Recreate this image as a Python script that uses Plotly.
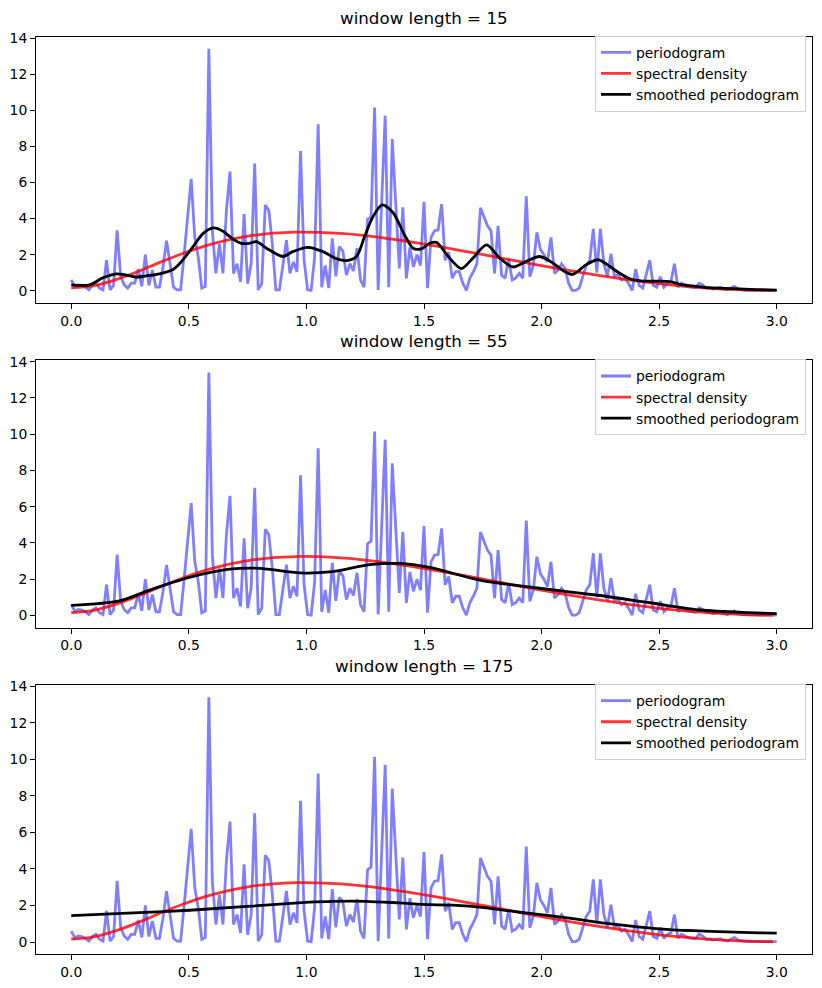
import numpy as np
import plotly.graph_objects as go

# ---- data ----
periodogram = [
    0.6, 0.23, 0.33, 0.3, 0.2, 0.05, 0.3, 0.42, 0.15, 0.05,
    1.7, 0.05, 0.3, 3.35, 0.8, 0.33, 0.15, 0.42, 0.42, 1.2,
    0.25, 2.0, 0.3, 1.15, 0.2, 0.2, 1.3, 2.78, 1.5, 0.2,
    0.05, 0.05, 2.0, 4.1, 6.2, 3.0, 1.87, 0.15, 0.25, 13.4,
    3.3, 0.96, 2.6, 0.96, 4.5, 6.6, 0.96, 1.5, 0.5, 4.25,
    0.4, 1.5, 7.05, 0.05, 0.4, 4.75, 4.45, 2.6, 0.05, 0.05,
    1.4, 2.8, 0.96, 1.6, 1.05, 7.74, 1.7, 0.05, 0.02, 1.87,
    9.23, 0.2, 1.4, 0.15, 2.9, 0.8, 2.45, 2.2, 0.87, 1.5,
    1.1, 2.36, 0.6, 0.2, 3.96, 4.1, 10.15, 0.05, 4.9, 9.7,
    0.2, 8.4, 4.8, 1.24, 4.62, 0.69, 2.4, 1.33, 2.0, 1.4,
    4.93, 0.15, 2.96, 3.33, 3.36, 4.8, 1.69, 2.15, 0.7, 1.06,
    1.06, 0.42, 0.02, 0.7, 1.06, 1.5, 4.6, 4.14, 3.6, 3.33,
    0.96, 3.6, 0.87, 0.7, 1.78, 0.6, 0.7, 0.96, 0.7, 5.23,
    0.78, 1.42, 3.24, 2.3, 2.0, 1.6, 2.96, 0.96, 1.15, 1.5,
    1.24, 0.42, 0.02, 0.02, 0.15, 0.78, 1.4, 1.69, 3.43, 1.0,
    3.43, 1.5, 0.8, 2.05, 0.8, 0.9, 0.6, 0.7, 0.4, 0.02,
    1.2, 0.3, 0.15, 0.9, 1.69, 0.3, 0.2, 0.78, 0.2, 0.42,
    0.5, 1.5, 0.2, 0.42, 0.33, 0.23, 0.2, 0.18, 0.42, 0.33,
    0.15, 0.15, 0.1, 0.15, 0.18, 0.1, 0.05, 0.15, 0.25, 0.1,
    0.05, 0.03, 0.03, 0.03, 0.05, 0.02, 0.02, 0.02, 0.02, 0.02,
    0.02,
]
freq_max = 3.0
freqs = np.linspace(0, freq_max, len(periodogram))

sd_w = [0.0, 0.095, 0.191, 0.286, 0.382, 0.477, 0.573, 0.668, 0.764, 0.859,
        0.955, 1.050, 1.146, 1.241, 1.337, 1.432, 1.528, 1.623, 1.719, 1.814,
        1.910, 2.005, 2.101, 2.196, 2.292, 2.387, 2.483, 2.578, 2.674, 2.769,
        2.865, 2.960, 2.984]
sd_v = [0.16, 0.28, 0.62, 1.08, 1.60, 2.08, 2.50, 2.82, 3.05, 3.19, 3.25, 3.24,
        3.18, 3.07, 2.91, 2.73, 2.53, 2.31, 2.08, 1.85, 1.61, 1.38, 1.16, 0.95,
        0.76, 0.58, 0.42, 0.29, 0.18, 0.10, 0.046, 0.020, 0.019]

sm15_w = [0.0, 0.078, 0.135, 0.191, 0.234, 0.277, 0.319, 0.375, 0.433, 0.475,
          0.518, 0.560, 0.605, 0.645, 0.688, 0.723, 0.758, 0.787, 0.830, 0.900,
          0.942, 1.006, 1.070, 1.127, 1.170, 1.213, 1.247, 1.282, 1.322, 1.367,
          1.418, 1.453, 1.489, 1.524, 1.553, 1.609, 1.659, 1.708, 1.766, 1.822,
          1.878, 1.935, 1.992, 2.048, 2.091, 2.133, 2.190, 2.240, 2.290, 2.311,
          2.375, 2.431, 2.488, 2.552, 2.588, 2.644, 2.715, 2.814, 2.913, 3.0]
sm15_v = [0.33, 0.33, 0.72, 0.94, 0.87, 0.76, 0.83, 0.94, 1.18, 1.72, 2.45,
          3.17, 3.48, 3.3, 2.86, 2.63, 2.63, 2.72, 2.36, 1.90, 2.17,
          2.41, 2.17, 1.78, 1.67, 1.90, 2.99, 4.08, 4.76, 4.35, 3.08,
          2.36, 2.32, 2.63, 2.68, 1.81, 1.23, 1.81, 2.54, 1.81, 1.32,
          1.63, 1.90, 1.54, 1.12, 0.91, 1.45, 1.72, 1.36, 1.15, 0.67,
          0.54, 0.54, 0.50, 0.36, 0.27, 0.17, 0.12, 0.07, 0.04]

sm55_w = [0.0, 0.205, 0.333, 0.503, 0.673, 0.801, 0.971, 1.099, 1.269, 1.396,
          1.524, 1.737, 1.992, 2.247, 2.460, 2.673, 2.885, 3.0]
sm55_v = [0.55, 0.8, 1.4, 2.1, 2.55, 2.6, 2.35, 2.4, 2.8, 2.87,
          2.65, 1.95, 1.5, 1.1, 0.7, 0.3, 0.15, 0.1]

sm175_w = [0.0, 0.239, 0.503, 1.013, 1.112, 1.255, 1.396, 1.524, 1.623, 1.766,
           1.907, 2.034, 2.133, 2.276, 2.417, 2.545, 2.644, 2.786, 2.928, 3.0]
sm175_v = [1.44, 1.58, 1.74, 2.18, 2.23, 2.23, 2.14, 2.05, 2.02, 1.87,
           1.63, 1.44, 1.28, 1.02, 0.82, 0.68, 0.62, 0.55, 0.50, 0.49]

window_lengths = [15, 55, 175]
smoothed = [(sm15_w, sm15_v), (sm55_w, sm55_v), (sm175_w, sm175_v)]

# ---- layout geometry (pixels) ----
W, H = 822, 988
x_left, x_right = 36, 812
panels_px = [(30, 298), (356, 625), (683, 954)]

fig = go.Figure()
font = dict(family="DejaVu Sans", size=13.9, color="black")

for i, (wl, (sw, sv)) in enumerate(zip(window_lengths, smoothed)):
    n = "" if i == 0 else str(i + 1)
    xa, ya = "x" + n, "y" + n
    lg = "legend" + n
    fig.add_trace(go.Scatter(x=freqs, y=periodogram, mode="lines", name="periodogram",
                             line=dict(color="rgba(0,0,255,0.5)", width=2.8),
                             xaxis=xa, yaxis=ya, legend=lg))
    fig.add_trace(go.Scatter(x=sd_w, y=sd_v, mode="lines", name="spectral density",
                             line=dict(color="rgba(255,0,0,0.8)", width=2.8, shape="spline"),
                             xaxis=xa, yaxis=ya, legend=lg))
    fig.add_trace(go.Scatter(x=sw, y=sv, mode="lines", name="smoothed periodogram",
                             line=dict(color="black", width=2.8, shape="spline", smoothing=0.8),
                             xaxis=xa, yaxis=ya, legend=lg))

    top, bot = panels_px[i]
    dom_y = [1 - bot / H, 1 - top / H]
    axis_common = dict(showline=True, mirror=True, linecolor="black", linewidth=1.1,
                       ticks="outside", ticklen=4.9, tickwidth=1.1, tickcolor="black",
                       showgrid=False, zeroline=False, tickfont=font)
    fig.layout["xaxis" + n] = dict(axis_common, domain=[x_left / W, x_right / W],
                                   range=[-0.15, 3.15], tickvals=[0, 0.5, 1, 1.5, 2, 2.5, 3],
                                   tickformat=".1f", anchor=ya)
    fig.layout["yaxis" + n] = dict(axis_common, domain=dom_y, range=[-0.67, 14.07],
                                   tickvals=list(range(0, 15, 2)), anchor=xa)
    fig.layout[lg] = dict(x=806 / W, y=1 - (top - 1) / H, xanchor="right", yanchor="top",
                          bgcolor="rgba(255,255,255,0.8)", bordercolor="#d0d0d0", borderwidth=1,
                          font=font, itemwidth=30, tracegroupgap=0)
    fig.add_annotation(text=f"window length = {wl}", xref="paper", yref="paper",
                       x=(x_left + x_right) / 2 / W, y=1 - top / H, xanchor="center",
                       yanchor="bottom", yshift=7, showarrow=False,
                       font=dict(family="DejaVu Sans", size=16.7, color="black"))

fig.update_layout(width=W, height=H, margin=dict(l=0, r=0, t=0, b=0),
                  plot_bgcolor="white", paper_bgcolor="white", showlegend=True,
                  font=font)
fig.write_html("out.html")
